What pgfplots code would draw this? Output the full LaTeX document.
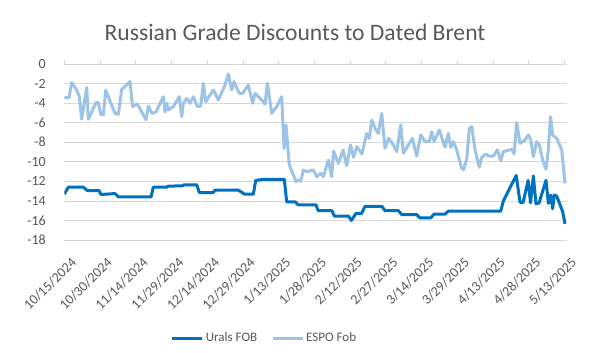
\documentclass[border=0pt]{standalone}
\usepackage{fontspec}
\setmainfont{Carlito}
\usepackage{pgfplots}
\pgfplotsset{compat=1.18}
\definecolor{urals}{HTML}{0070C0}
\definecolor{espo}{HTML}{9DC3E6}
\definecolor{txt}{HTML}{595959}
\definecolor{gridc}{HTML}{D9D9D9}
\begin{document}
\begin{tikzpicture}
\useasboundingbox (0,0) rectangle (590pt,353pt);
\node[font=\fontsize{23.6}{26}\selectfont, text=txt] at (295pt,321pt) {Russian Grade Discounts to Dated Brent};
\begin{axis}[
 at={(64.3pt,113pt)}, anchor=south west,
 scale only axis, width=502.4pt, height=176pt,
 xmin=0, xmax=211, ymin=-18, ymax=0,
 xtick={0,15,...,210},
 xticklabels={10/15/2024,10/30/2024,11/14/2024,11/29/2024,12/14/2024,12/29/2024,1/13/2025,1/28/2025,2/12/2025,2/27/2025,3/14/2025,3/29/2025,4/13/2025,4/28/2025,5/13/2025},
 ytick={-18,-16,...,0},
 ymajorgrids, major grid style={gridc, line width=0.75pt},
 axis line style={draw=none},
 xtick pos=upper, xticklabel pos=lower,
 tick align=outside, major tick length=4pt,
 xtick style={gridc, line width=0.75pt},
 ytick style={draw=none},
 ticklabel style={font=\fontsize{14}{16}\selectfont, text=txt},
 xticklabel style={xshift=6pt, yshift=-12pt, rotate=45, anchor=north east, inner sep=0pt},
 yticklabel style={xshift=-11pt},
 /pgf/number format/assume math mode=true,
 legend style={at={(0.3985,-0.557)}, anchor=center, draw=none, legend columns=2,
   font=\fontsize{13}{15}\selectfont, text=txt,
   /tikz/every even column/.append style={column sep=12pt}},
 legend image code/.code={\draw[#1] (0pt,0pt) -- (30pt,0pt);},
 every axis plot/.append style={line width=3pt, line join=round, mark=none},
]
\addplot[urals] coordinates {
(0,-13.3) (1.7,-12.6) (8.0,-12.6) (9.7,-12.95) (14.6,-12.95) (15.4,-13.35) (21.3,-13.25) (22.7,-13.6)
(36.4,-13.6) (37.4,-12.6) (43.0,-12.6) (43.6,-12.5) (49.7,-12.45) (50.3,-12.35) (55.6,-12.35) (56.7,-13.15)
(62.6,-13.15) (63.3,-12.9) (73.1,-12.9) (75.6,-13.3) (79.4,-13.3) (80.4,-11.9) (83.6,-11.8) (92.4,-11.8)
(93.4,-14.1) (97.0,-14.1) (98.2,-14.4) (105.7,-14.4) (106.6,-15.0) (112.4,-15.0) (113.4,-15.55) (119.3,-15.55)
(120.6,-16.0) (122.4,-15.3) (124.8,-15.3) (126.3,-14.55) (133.4,-14.55) (134.7,-15.0) (140.3,-15.0) (141.7,-15.4)
(148.0,-15.4) (149.4,-15.75) (153.9,-15.75) (155.3,-15.35) (159.9,-15.35) (161.3,-15.05) (183.3,-15.05) (184.4,-14.0)
(189.8,-11.4) (191.4,-14.15) (192.7,-14.15) (194.8,-11.9) (195.8,-14.2) (197.0,-11.45) (198.1,-14.3) (199.4,-14.2)
(202.3,-11.9) (203.3,-14.25) (204.3,-13.4) (205.1,-14.8) (205.8,-13.4) (206.8,-13.5) (208.2,-14.4) (209.3,-15.1)
(210.3,-16.35)
};
\addlegendentry{Urals FOB}
\addplot[espo] coordinates {
(0,-3.45) (2.0,-3.45) (3.1,-1.9) (5.2,-2.65) (6.3,-3.3) (7.3,-5.65) (9.4,-2.4) (10.1,-5.65)
(13.3,-3.95) (14.3,-3.95) (15.3,-5.15) (16.4,-5.2) (17.4,-2.7) (21.3,-5.05) (22.7,-5.15) (24.1,-2.6)
(27.6,-1.8) (28.7,-4.35) (30.7,-4.1) (34.3,-5.7) (35.3,-4.3) (36.7,-5.05) (38.5,-4.9) (41.6,-3.35)
(42.3,-4.9) (43.0,-4.02) (43.7,-4.7) (45.8,-4.36) (48.3,-3.34) (49.3,-5.39) (50.0,-4.02) (51.4,-3.51)
(52.8,-4.02) (54.2,-3.34) (55.9,-4.36) (57.3,-4.29) (58.4,-1.98) (59.4,-3.85) (62.6,-2.66) (64.7,-3.68)
(67.5,-2.15) (68.9,-1.02) (70.3,-2.66) (71.3,-1.81) (73.5,-3.0) (74.9,-3.0) (77.3,-2.15) (79.1,-4.02)
(80.1,-3.0) (82.9,-3.68) (84.3,-4.1) (85.3,-1.98) (87.1,-5.04) (89.2,-4.36) (91.3,-3.34) (92.3,-8.62)
(93.1,-6.24) (94.5,-10.33) (97.3,-12.03) (98.3,-11.86) (99.3,-12.0) (100.4,-10.84) (101.8,-11.01) (104.6,-10.84)
(106.0,-11.52) (107.7,-11.18) (108.8,-11.52) (110.9,-9.82) (112.3,-11.52) (113.1,-8.9) (115.1,-10.16) (117.1,-8.8)
(118.6,-10.4) (120.2,-8.28) (121.5,-9.54) (122.9,-8.45) (125.0,-9.2) (127.0,-7.1) (128.1,-7.6) (129.1,-5.73)
(130.5,-6.58) (131.9,-7.1) (133.3,-5.04) (134.7,-8.62) (136.2,-7.6) (138.2,-8.28) (139.6,-8.97) (141.3,-6.24)
(142.4,-9.13) (144.5,-8.28) (146.2,-7.6) (148.0,-9.41) (149.7,-7.26) (151.5,-7.94) (153.3,-7.94) (154.3,-6.92)
(155.3,-7.94) (157.5,-6.75) (159.9,-8.52) (161.3,-7.09) (162.3,-8.52) (163.4,-7.94) (164.8,-8.79) (166.9,-10.67)
(167.7,-10.8) (169.0,-9.75) (170.1,-6.58) (171.1,-6.41) (172.5,-8.79) (174.3,-10.56) (175.3,-9.54) (177.1,-9.2)
(178.1,-9.41) (180.2,-9.41) (181.9,-8.79) (183.3,-9.89) (184.4,-8.97) (187.9,-8.72) (188.9,-9.2) (190.0,-6.0)
(191.4,-8.11) (193.5,-7.77) (194.9,-7.26) (195.9,-7.77) (197.0,-9.48) (198.4,-7.94) (199.5,-8.28) (200.9,-9.82)
(202.3,-10.77) (203.2,-8.97) (204.2,-5.39) (205.1,-7.26) (206.8,-7.6) (208.9,-8.79) (210.3,-12.2)
};
\addlegendentry{ESPO Fob}
\end{axis}
\end{tikzpicture}
\end{document}
